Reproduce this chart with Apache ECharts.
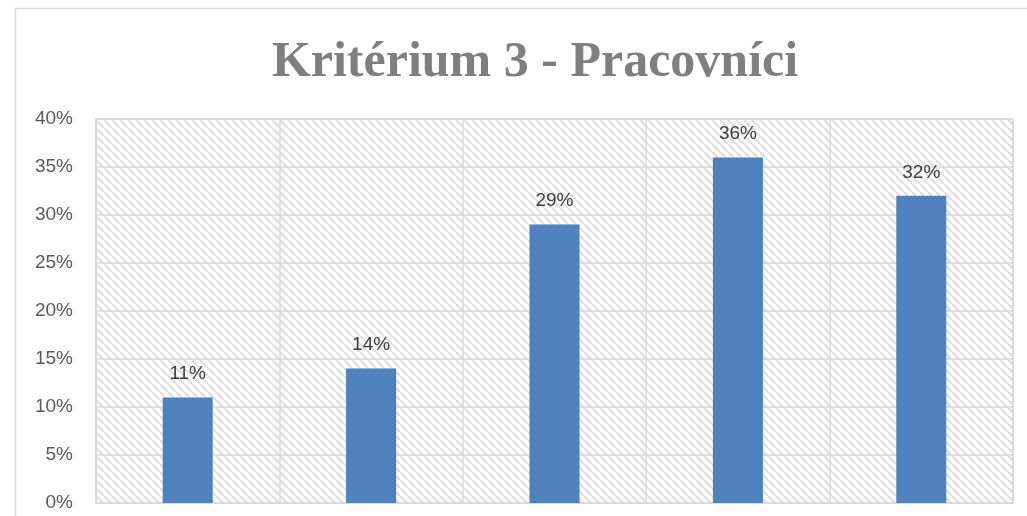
<!DOCTYPE html>
<html><head><meta charset="utf-8">
<script src="https://cdn.jsdelivr.net/npm/echarts@6/dist/echarts.min.js"></script>
<style>html,body{margin:0;padding:0;background:#fff}#c{width:1027px;height:516px}</style>
</head><body><div id="c"></div>
<script>
const titleText = 'Kritérium 3 - Pracovníci';
const categories = ['1', '2', '3', '4', '5'];
const values = [11, 14, 29, 36, 32];
const yTicks = [0, 5, 10, 15, 20, 25, 30, 35, 40];

function hatch() {
  const s = 8;
  const c = document.createElement('canvas');
  c.width = s; c.height = s;
  const g = c.getContext('2d');
  g.fillStyle = '#ffffff'; g.fillRect(0, 0, s, s);
  g.strokeStyle = '#e0e0e0'; g.lineWidth = 2.5;
  for (let k = -1; k <= 1; k++) {
    g.beginPath();
    g.moveTo(k * s, 0); g.lineTo(k * s + s, s);
    g.stroke();
  }
  return c;
}

const chart = echarts.init(document.getElementById('c'), null, {renderer: 'canvas'});
chart.setOption({
  animation: false,
  backgroundColor: '#ffffff',
  title: {
    text: titleText, left: 530, top: 33, textAlign: 'center',
    textStyle: {fontFamily: 'Liberation Serif', fontWeight: 'bold', fontSize: 50, color: '#7f7f7f'}
  },
  graphic: [{
    type: 'rect', shape: {x: 15.5, y: 8.5, width: 1100, height: 600},
    style: {fill: 'none', stroke: '#d9d9d9', lineWidth: 1.5}, silent: true, z: -1
  }],
  grid: {
    left: 96, right: 14, top: 119, bottom: 13, show: true,
    backgroundColor: {image: hatch(), repeat: 'repeat'},
    borderColor: '#d9d9d9', borderWidth: 1.5
  },
  xAxis: {
    type: 'category', data: categories, boundaryGap: true,
    axisLine: {show: true, lineStyle: {color: '#d9d9d9', width: 1.5}},
    axisTick: {show: false}, axisLabel: {show: false},
    splitLine: {show: true, lineStyle: {color: '#d9d9d9', width: 1.5}}
  },
  yAxis: {
    type: 'value', min: yTicks[0], max: yTicks[yTicks.length - 1], interval: 5,
    axisLine: {show: false}, axisTick: {show: false},
    axisLabel: {formatter: v => v + '%', fontFamily: 'Liberation Sans', fontSize: 19, color: '#595959', margin: 23},
    splitLine: {show: true, lineStyle: {color: '#d9d9d9', width: 1.5}}
  },
  series: [{
    type: 'bar', data: values, barWidth: 50,
    itemStyle: {color: '#4f81bd'},
    label: {show: true, position: 'top', distance: 14, formatter: p => p.value + '%',
      fontFamily: 'Liberation Sans', fontSize: 19, color: '#404040'}
  }]
});
</script></body></html>
